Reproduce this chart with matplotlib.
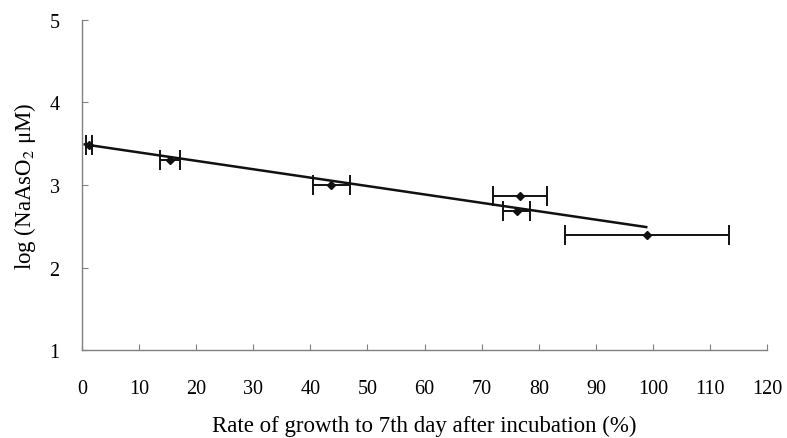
import matplotlib
matplotlib.use("Agg")
import matplotlib.pyplot as plt

# data
growth = [1.2, 15.4, 43.7, 76.7, 76.1, 98.9]
growth_err = [0.5, 1.7, 3.2, 4.7, 2.4, 14.4]
log_conc = [3.48, 3.30, 3.00, 2.87, 2.69, 2.39]
trend_x = [0.5, 98.8]
trend_y = [3.49, 2.49]

x_ticks = [0, 10, 20, 30, 40, 50, 60, 70, 80, 90, 100, 110, 120]
y_ticks = [1, 2, 3, 4, 5]

plt.rcParams['font.family'] = ['Liberation Serif', 'DejaVu Serif']
plt.rcParams['mathtext.fontset'] = 'stix'

fig = plt.figure(figsize=(7.87, 4.39), dpi=100)
ax = fig.add_axes([0.104, 0.2, 0.871, 0.753])

ax.plot(trend_x, trend_y, color='#111111', lw=1.8, zorder=2)
ax.errorbar(growth, log_conc, xerr=growth_err, fmt='D', color='#111111',
            ms=4.5, ecolor='#111111', elinewidth=1.4, capsize=7,
            capthick=1.4, zorder=3)

ax.set_xlim(0, 120)
ax.set_ylim(1, 5)
ax.set_xticks(x_ticks)
ax.set_yticks(y_ticks)

for s in ['top', 'right']:
    ax.spines[s].set_visible(False)
for s in ['left', 'bottom']:
    ax.spines[s].set_color('#808080')
    ax.spines[s].set_linewidth(1.0)

ax.tick_params(axis='x', direction='in', length=4, color='#808080',
               pad=21, labelsize=14.5)
ax.tick_params(axis='y', direction='in', length=4, color='#808080',
               pad=16, labelsize=14.5)

ax.set_xlabel('Rate of growth to 7th day after incubation (%)', fontsize=16.5,
              labelpad=12)
ax.set_ylabel(r'log (NaAsO$_2$ μM)', fontsize=16.5, labelpad=8)

fig.savefig('out.png', dpi=100)
